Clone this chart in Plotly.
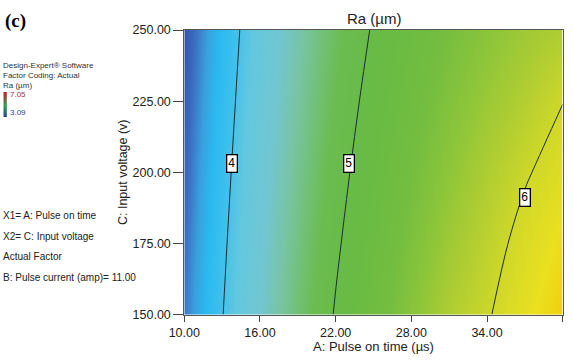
import plotly.graph_objects as go

# ---- data ----
pulse_on_time = [10, 13, 16, 19, 22, 25, 28, 31, 34, 37, 40]          # A (µs)
input_voltage = [150, 175, 200, 225, 250]                               # C (v)
ra_c150 = [3.597, 3.990, 4.359, 4.702, 5.021, 5.313, 5.581, 5.822, 5.975, 6.170, 6.350]
ra_c175 = [3.565, 3.953, 4.315, 4.650, 4.959, 5.241, 5.497, 5.725, 5.900, 6.080, 6.252]
ra_c200 = [3.532, 3.915, 4.271, 4.598, 4.898, 5.169, 5.413, 5.628, 5.816, 5.975, 6.107]
ra_c225 = [3.500, 3.877, 4.227, 4.546, 4.837, 5.097, 5.329, 5.531, 5.704, 5.847, 5.995]
ra_c250 = [3.467, 3.840, 4.183, 4.494, 4.775, 5.025, 5.245, 5.434, 5.593, 5.720, 5.817]
ra_grid = [ra_c150, ra_c175, ra_c200, ra_c225, ra_c250]

contour_levels = [4, 5, 6]
label_A = [13.76, 23.08, 37.0]
label_C = [203, 203, 191]

x_ticks = [10, 16, 22, 28, 34, 40]
y_ticks = [150, 175, 200, 225, 250]

legend_range = [3.09, 7.05]

W, H = 573, 363
x0, x1 = 184.3, 562.7
y0, y1 = 30, 314.5

FONT = "Liberation Sans, Arial, sans-serif"

ra_scale = [
    [0.00, '#3252a6'], [0.04, '#3c6ec0'], [0.08, '#3a9fdd'], [0.12, '#2abaf0'],
    [0.17, '#3fc0ec'], [0.22, '#62c8e0'], [0.30, '#72c6d0'], [0.36, '#78c4a4'],
    [0.42, '#70c070'], [0.46, '#6abc50'], [0.55, '#68bb44'], [0.65, '#73bd40'],
    [0.72, '#8cc53a'], [0.79, '#b0cd32'], [0.85, '#d0d829'], [0.92, '#ebe020'],
    [1.00, '#f3c400'],
]

fig = go.Figure()

fig.add_trace(go.Heatmap(
    x=pulse_on_time, y=input_voltage, z=ra_grid,
    colorscale=ra_scale, zmin=3.45, zmax=6.45, zsmooth='best',
    showscale=False, hoverinfo='skip'))

fig.add_trace(go.Contour(
    x=pulse_on_time, y=input_voltage, z=ra_grid,
    contours=dict(start=contour_levels[0], end=contour_levels[-1], size=1,
                  coloring='none', showlabels=False),
    line=dict(color='#1c2e2e', width=1),
    showscale=False, hoverinfo='skip'))

# small legend strip (top-left)
fig.add_trace(go.Heatmap(
    x=[0, 1], y=[0, 1, 2],
    z=[[legend_range[0], legend_range[0]],
       [(legend_range[0] + legend_range[1]) / 2] * 2,
       [legend_range[1], legend_range[1]]],
    colorscale=[[0, '#1f3f9f'], [0.5, '#2fa24a'], [1, '#c81e28']],
    zsmooth='best', showscale=False, hoverinfo='skip',
    xaxis='x2', yaxis='y2'))

for a, c, lv in zip(label_A, label_C, contour_levels):
    fig.add_annotation(x=a, y=c, text=str(lv), showarrow=False,
                       font=dict(family=FONT, size=12, color='black'),
                       bgcolor='white', bordercolor='black', borderwidth=1.3,
                       borderpad=1, xref='x', yref='y')

fig.update_layout(
    width=W, height=H,
    margin=dict(l=0, r=0, t=0, b=0, pad=0, autoexpand=False),
    paper_bgcolor='white', plot_bgcolor='white',
    showlegend=False,
    font=dict(family=FONT, color='#222'),
    xaxis=dict(domain=[x0 / W, x1 / W], range=[10, 40], automargin=False,
               tickvals=x_ticks, tickformat='.2f',
               ticks='outside', ticklen=6, tickcolor='#444', tickwidth=1,
               showline=True, linecolor='#555', linewidth=1, mirror=True,
               showgrid=False, zeroline=False,
               tickfont=dict(size=12.5, family=FONT, color='#222'),
               title=dict(text='A: Pulse on time (µs)', standoff=2,
                          font=dict(size=13, family=FONT, color='#222'))),
    yaxis=dict(domain=[1 - y1 / H, 1 - y0 / H], range=[150, 250], automargin=False,
               tickvals=y_ticks, tickformat='.2f',
               ticks='outside', ticklen=10, tickcolor='#444', tickwidth=1,
               showline=True, linecolor='#555', linewidth=1, mirror=True,
               showgrid=False, zeroline=False,
               tickfont=dict(size=12.5, family=FONT, color='#222'),
               title=dict(text='C: Input voltage (v)', standoff=2,
                          font=dict(size=12.5, family=FONT, color='#222'))),
    xaxis2=dict(domain=[3.3 / W, 6.8 / W], range=[0, 1], visible=False,
                anchor='y2', automargin=False),
    yaxis2=dict(domain=[1 - 117 / H, 1 - 92 / H], range=[0, 2], visible=False,
                anchor='x2', automargin=False),
)

# chart title
fig.add_annotation(text='Ra (µm)', x=(x0 + x1) / 2 / W, y=1 - 18 / H,
                   xref='paper', yref='paper', showarrow=False,
                   font=dict(size=15, family=FONT, color='#222'),
                   xanchor='center', yanchor='middle')

# panel letter
fig.add_annotation(text='<b>(c)</b>', x=3 / W, y=1 - 21 / H, xref='paper', yref='paper',
                   showarrow=False, xanchor='left', yanchor='middle',
                   font=dict(size=19, family='Liberation Serif, Times New Roman, serif',
                             color='black'))

# software info text
info_lines = ['Design-Expert® Software', 'Factor Coding: Actual', 'Ra (µm)']
info_y = [65.7, 75.7, 85.3]
for t, yy in zip(info_lines, info_y):
    fig.add_annotation(text=t, x=1 / W, y=1 - yy / H, xref='paper', yref='paper',
                       showarrow=False, xanchor='left', yanchor='middle',
                       font=dict(size=8, family=FONT, color='#333'))

fig.add_annotation(text=f'{legend_range[1]:.2f}', x=8 / W, y=1 - 95 / H, xref='paper',
                   yref='paper', showarrow=False, xanchor='left', yanchor='middle',
                   font=dict(size=8, family=FONT, color='#a8303c'))
fig.add_annotation(text=f'{legend_range[0]:.2f}', x=8 / W, y=1 - 113 / H, xref='paper',
                   yref='paper', showarrow=False, xanchor='left', yanchor='middle',
                   font=dict(size=8, family=FONT, color='#2a3f8f'))

factor_lines = ['X1= A: Pulse on time', 'X2= C: Input voltage', 'Actual Factor',
                'B: Pulse current (amp)= 11.00']
factor_y = [215, 236, 256.5, 277.5]
for t, yy in zip(factor_lines, factor_y):
    fig.add_annotation(text=t, x=1 / W, y=1 - yy / H, xref='paper', yref='paper',
                       showarrow=False, xanchor='left', yanchor='middle',
                       font=dict(size=10, family=FONT, color='#222'))

fig.write_html("out.html")
